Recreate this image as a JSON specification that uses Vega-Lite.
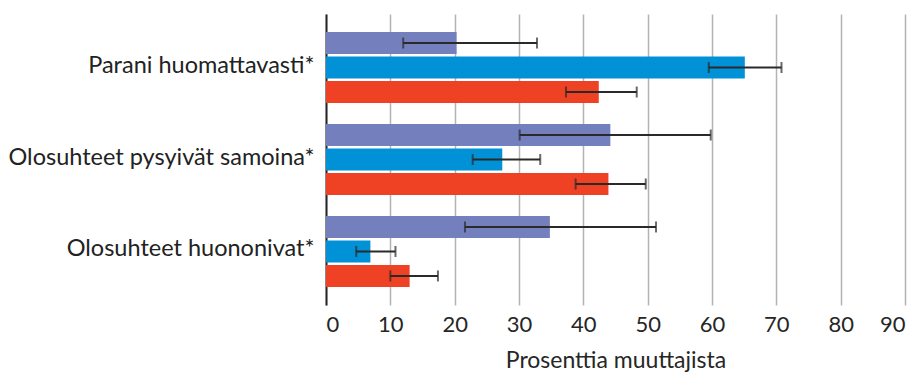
{
  "$schema": "https://vega.github.io/schema/vega-lite/v6.json",
  "autosize": {"type": "none"},
  "width": 579,
  "height": 291,
  "padding": {"left": 326, "top": 14, "right": 19, "bottom": 70},
  "config": {"view": {"stroke": null}, "font": "Lato"},
  "data": {
    "values": [
      {"cat": "Parani huomattavasti*", "s": "s1", "v": 20.3, "lo": 12.0, "hi": 32.8},
      {"cat": "Parani huomattavasti*", "s": "s2", "v": 65.1, "lo": 59.5, "hi": 70.8},
      {"cat": "Parani huomattavasti*", "s": "s3", "v": 42.4, "lo": 37.3, "hi": 48.3},
      {"cat": "Olosuhteet pysyivät samoina*", "s": "s1", "v": 44.2, "lo": 30.1, "hi": 59.8},
      {"cat": "Olosuhteet pysyivät samoina*", "s": "s2", "v": 27.4, "lo": 22.8, "hi": 33.3},
      {"cat": "Olosuhteet pysyivät samoina*", "s": "s3", "v": 43.9, "lo": 38.8, "hi": 49.7},
      {"cat": "Olosuhteet huononivat*", "s": "s1", "v": 34.8, "lo": 21.6, "hi": 51.3},
      {"cat": "Olosuhteet huononivat*", "s": "s2", "v": 6.9, "lo": 4.7, "hi": 10.8},
      {"cat": "Olosuhteet huononivat*", "s": "s3", "v": 13.0, "lo": 10.0, "hi": 17.4}
    ]
  },
  "encoding": {
    "y": {
      "field": "cat",
      "type": "nominal",
      "sort": ["Parani huomattavasti*", "Olosuhteet pysyivät samoina*", "Olosuhteet huononivat*"],
      "scale": {"paddingInner": 0.228, "paddingOuter": 0.196},
      "axis": {
        "title": null,
        "ticks": false,
        "domain": true,
        "domainColor": "#262626",
        "domainWidth": 2,
        "labelFontSize": 23.5,
        "labelColor": "#222222",
        "labelPadding": 12,
        "labelLimit": 400,
        "labelOffset": -2
      }
    },
    "yOffset": {
      "field": "s",
      "type": "nominal",
      "sort": ["s1", "s2", "s3"],
      "scale": {"paddingInner": 0.1, "paddingOuter": 0}
    }
  },
  "layer": [
    {
      "mark": {"type": "bar"},
      "encoding": {
        "x": {
          "field": "v",
          "type": "quantitative",
          "title": "Prosenttia muuttajista",
          "scale": {"domain": [0, 90], "nice": false},
          "axis": {
            "values": [0, 10, 20, 30, 40, 50, 60, 70, 80, 90],
            "domain": false,
            "ticks": false,
            "grid": true,
            "gridColor": "#b3b3b3",
            "gridWidth": 1.5,
            "labelFontSize": 22,
            "labelColor": "#262626",
            "labelPadding": 9,
            "titleFontSize": 23,
            "titleFontWeight": "normal",
            "titleColor": "#262626",
            "titlePadding": 14
          }
        },
        "color": {
          "field": "s",
          "type": "nominal",
          "scale": {"domain": ["s1", "s2", "s3"], "range": ["#747fbe", "#0091d6", "#ef4124"]},
          "legend": null
        }
      }
    },
    {
      "mark": {"type": "rule", "color": "#2a2a2a", "strokeWidth": 2},
      "encoding": {
        "x": {"field": "lo", "type": "quantitative", "title": "Prosenttia muuttajista"},
        "x2": {"field": "hi"}
      }
    },
    {
      "mark": {"type": "tick", "color": "#2a2a2a", "thickness": 2, "size": 11, "orient": "vertical"},
      "encoding": {
        "x": {"field": "lo", "type": "quantitative", "title": "Prosenttia muuttajista"}
      }
    },
    {
      "mark": {"type": "tick", "color": "#2a2a2a", "thickness": 2, "size": 11, "orient": "vertical"},
      "encoding": {
        "x": {"field": "hi", "type": "quantitative", "title": "Prosenttia muuttajista"}
      }
    }
  ]
}
